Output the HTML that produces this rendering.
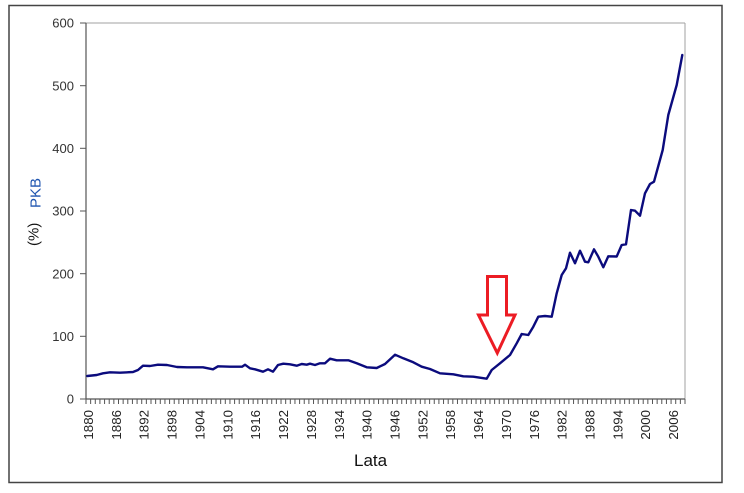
<!DOCTYPE html>
<html><head><meta charset="utf-8"><style>
html,body{margin:0;padding:0;background:#fff;}
svg{display:block;font-family:"Liberation Sans",Arial,sans-serif;}
</style></head><body>
<svg width="744" height="493" viewBox="0 0 744 493" xmlns="http://www.w3.org/2000/svg">
<rect x="0" y="0" width="744" height="493" fill="#fff"/>
<rect x="9" y="5.5" width="713" height="477" fill="none" stroke="#444" stroke-width="1.5"/>
<!-- plot border -->
<line x1="86" y1="23" x2="685" y2="23" stroke="#a0a0a0" stroke-width="1"/>
<line x1="685" y1="23" x2="685" y2="399" stroke="#a0a0a0" stroke-width="1"/>
<line x1="86" y1="23" x2="86" y2="399.5" stroke="#555" stroke-width="1.2"/>
<line x1="86" y1="399" x2="685" y2="399" stroke="#555" stroke-width="1.2"/>
<g stroke="#555" stroke-width="1">
<line x1="80" y1="23" x2="86" y2="23"/>
<line x1="80" y1="85.7" x2="86" y2="85.7"/>
<line x1="80" y1="148.3" x2="86" y2="148.3"/>
<line x1="80" y1="211" x2="86" y2="211"/>
<line x1="80" y1="273.7" x2="86" y2="273.7"/>
<line x1="80" y1="336.3" x2="86" y2="336.3"/>
<line x1="80" y1="399" x2="86" y2="399"/>
</g>
<g id="xt" stroke="#555" stroke-width="1"></g>
<g font-size="13" fill="#333" text-anchor="end">
<text x="74" y="27.7">600</text>
<text x="74" y="90.4">500</text>
<text x="74" y="153">400</text>
<text x="74" y="215.7">300</text>
<text x="74" y="278.4">200</text>
<text x="74" y="341">100</text>
<text x="74" y="403.7">0</text>
</g>
<g id="xl" font-size="13.3" fill="#222" text-anchor="end"></g>
<text x="354" y="466" font-size="17" fill="#111">Lata</text>
<text transform="translate(40.5,208) rotate(-90)" font-size="15" fill="#1f55b0">PKB</text>
<text transform="translate(38.5,246) rotate(-90)" font-size="15" fill="#111">(%)</text>
<polyline fill="none" stroke="#0b0b7d" stroke-width="2.4" stroke-linejoin="round" stroke-linecap="round" points="87.3,376 96.7,375 103,373.3 110,372.3 120,372.7 133,372 138,370 143,365.7 150,366 158,364.7 167,365 177,367 187,367.3 203,367.3 213,369.3 218,366.3 230,366.7 242,366.7 245,364.7 250,368.3 255,369.3 263,371.7 268,369.3 273,371.7 278,365 283.3,363.7 290,364.3 296.7,365.7 301.7,364 306.7,364.7 310,363.7 315,365 320,363.3 325,363.3 330,358.7 336.7,360.3 348.3,360.3 356.7,363.3 366.7,367.3 376.7,368 385,364 395,354.7 403.3,358.3 413.3,362.3 421.7,366.7 430,369 440,373.3 453.3,374.3 463.3,376.3 473.3,376.7 486.7,378.7 491.7,370 500,363.3 510,355 516.7,343.3 521.7,334 528.3,335 533.3,326.7 538.3,316.7 545,316 551.7,316.7 556.7,293.3 561.7,275 566,268.3 570,252.7 575,263.3 580,250.7 585,261.7 588.3,262.3 594,249.3 598.3,256.7 603.3,267.3 608.3,256.3 616.7,256.5 621.7,245 626,244.3 631,210 635,210.7 640,215.7 645,193.3 650,184 654,181.7 662.7,150 668.3,115 676.7,85 682.3,55"/>
<polygon points="487.5,276.5 506.5,276.5 506.5,315 515,315 497.3,353 478.5,315 487.5,315" fill="none" stroke="#ec1c24" stroke-width="3" stroke-linejoin="miter"/>
<script>
(function(){
var ns="http://www.w3.org/2000/svg";
var xt=document.getElementById("xt"), xl=document.getElementById("xl");
var w=(685-86)/129;
for(var i=0;i<=129;i++){
var x=86+i*w;
var l=document.createElementNS(ns,"line");
l.setAttribute("x1",x.toFixed(2));l.setAttribute("x2",x.toFixed(2));
l.setAttribute("y1","399");l.setAttribute("y2","404");
xt.appendChild(l);
}
for(var y=1880;y<=2006;y+=6){
var cx=86+(y-1880+0.5)*w;
var t=document.createElementNS(ns,"text");
t.setAttribute("transform","translate("+(cx+4.7).toFixed(2)+",410) rotate(-90)");
t.textContent=String(y);
xl.appendChild(t);
}
})();
</script>
</svg>
</body></html>
